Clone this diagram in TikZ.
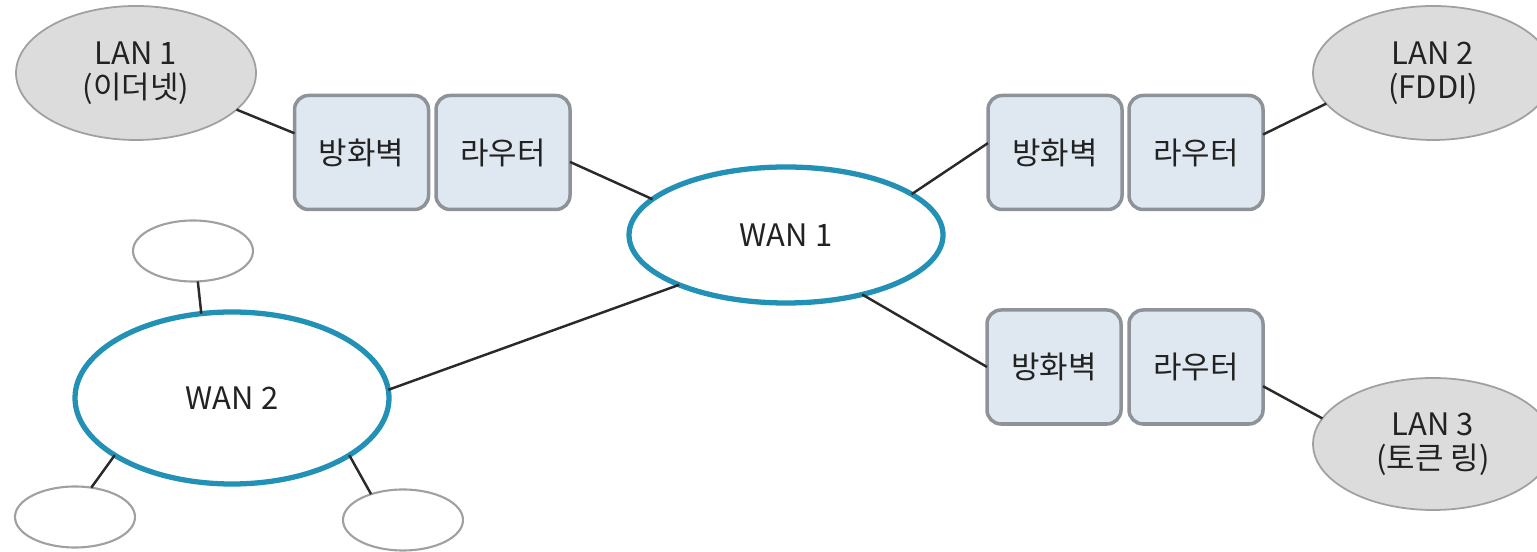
\documentclass[tikz,border=0pt]{standalone}
\usepackage{fontspec}
\setmainfont{Noto Sans CJK KR}
\usetikzlibrary{shapes}

\definecolor{langray}{HTML}{DCDCDC}
\definecolor{lanedge}{HTML}{A0A0A0}
\definecolor{boxfill}{HTML}{DFE8F0}
\definecolor{boxedge}{HTML}{8D9399}
\definecolor{wanblue}{HTML}{2291B5}
\definecolor{linkgray}{HTML}{2A2A2A}
\definecolor{txtgray}{HTML}{222222}

\begin{document}
\begin{tikzpicture}[
        font={\fontsize{8.8}{9.6}\selectfont},text=txtgray,
        lan/.style={shape=ellipse,fill=langray,draw=lanedge,line width=0.5pt,
            minimum width=2.40cm,minimum height=1.34cm,inner sep=0pt,outer sep=0pt,align=center},
        wan/.style={shape=ellipse,fill=white,draw=wanblue,line width=1.5pt,
            minimum width=3.14cm,inner sep=0pt,outer sep=0pt},
        host/.style={shape=ellipse,draw=lanedge,line width=0.6pt,
            minimum width=1.20cm,minimum height=0.61cm,inner sep=0pt,outer sep=0pt},
        dev/.style={shape=rectangle,rounded corners=4pt,fill=boxfill,draw=boxedge,line width=1pt,
            minimum width=1.34cm,minimum height=1.14cm,inner sep=0pt,outer sep=0pt},
        every edge/.style={draw=linkgray,line width=0.7pt}]
                \useasboundingbox (0, 0) rectangle (15.37, 5.52);
                % WAN side
                \node[wan,minimum height=1.36cm](WAN1)at(7.86, 3.17){WAN 1};
                \node[wan,minimum height=1.72cm](WAN2)at(2.32, 1.54){WAN 2};
                \node[host](H1)at(1.93, 3.01){};
                \node[host](H2)at(0.75, 0.35){};
                \node[host](H3)at(4.03, 0.32){};
                % LANs with firewall and router
                \node[lan](LAN1)at(1.36, 4.79){LAN 1\\(이더넷)};
                \node[lan](LAN2)at(14.33, 4.79){LAN 2\\(FDDI)};
                \node[lan,minimum height=1.32cm](LAN3)at(14.33, 1.08){LAN 3\\(토큰 링)};
                \node[dev](FW1)at(3.615, 3.995){방화벽};
                \node[dev](R1)at(5.03, 3.995){라우터};
                \node[dev](FW2)at(10.55, 3.995){방화벽};
                \node[dev](R2)at(11.96, 3.995){라우터};
                \node[dev](FW3)at(10.54, 1.85){방화벽};
                \node[dev](R3)at(11.96, 1.85){라우터};
                \path[](LAN1.-20) edge (FW1.164)
                (R1.-8) edge (WAN1.165)
                (WAN1.18) edge (FW2.172)
                (R2.15) edge (LAN2.196)
                (WAN1.-38) edge (FW3.west)
                (R3.-16) edge (LAN3.167)
                (WAN2.3) edge (WAN1.205)
                (H1.-81) edge (WAN2.110)
                (WAN2.206) edge (H2.61)
                (WAN2.-26) edge (H3.141);
            \end{tikzpicture}
\end{document}
